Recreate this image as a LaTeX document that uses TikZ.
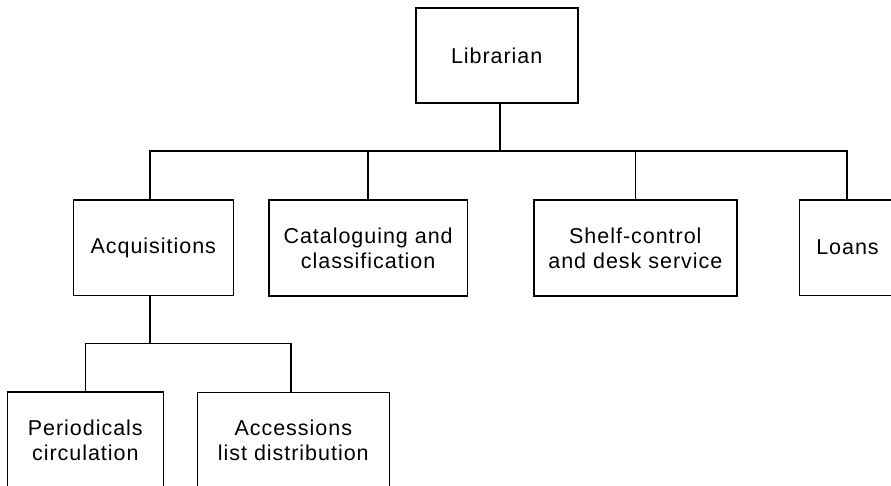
\documentclass[tikz,border=0pt]{standalone}
\usepackage{fontspec}
\setmainfont{Liberation Sans}[LetterSpace=4.5]
\begin{document}
\begin{tikzpicture}[x=1pt,y=-1pt,
  unit/.style={draw, line width=1.6pt, inner sep=0pt, align=center,
    font=\fontsize{21.5}{25}\selectfont},
  link/.style={line width=1.6pt}]
\useasboundingbox (0,0) rectangle (891,486);
\clip (0,0) rectangle (891,486);

% organisation units
\node[unit, minimum width=162pt,   minimum height=95pt]   (lib)    at (496.7,55.8)   {Librarian};
\node[unit, minimum width=160pt,   minimum height=95.5pt] (acq)    at (153.3,247.75) {Acquisitions};
\node[unit, minimum width=198.3pt, minimum height=95.7pt] (cat)    at (368.15,247.85) {Cataloguing and\\classification};
\node[unit, minimum width=202.7pt, minimum height=95.7pt] (shelf)  at (635.35,247.85) {Shelf-control\\and desk service};
\node[unit, minimum width=96.4pt,  minimum height=95.3pt] (loans)  at (847.5,247.65) {Loans};
\node[unit, minimum width=156pt,   minimum height=96.3pt] (per)    at (85.3,439.85)  {Periodicals\\circulation};
\node[unit, minimum width=192pt,   minimum height=96pt]   (acc)    at (293.3,440.3)  {Accessions\\list distribution};

% junction points of the connecting lines
\coordinate (hub)  at (500,151);
\coordinate (busL) at (150,151);
\coordinate (busR) at (846.7,151);
\coordinate (sub)  at (150,343.3);

% top level
\draw[link] ([xshift=3.3pt]lib.south) -- (hub);
\draw[link] ([xshift=-3.3pt]acq.north) -- (busL) -- (busR) -- (busR |- loans.north);
\draw[link] (cat.north) -- (cat.north |- hub);
\draw[link] (shelf.north) -- (shelf.north |- hub);

% acquisitions sections
\draw[link] ([xshift=-3.3pt]acq.south) -- (sub);
\draw[link] (per.north) |- ([xshift=-2.3pt]acc.north |- sub) -- ([xshift=-2.3pt]acc.north);
\end{tikzpicture}
\end{document}
